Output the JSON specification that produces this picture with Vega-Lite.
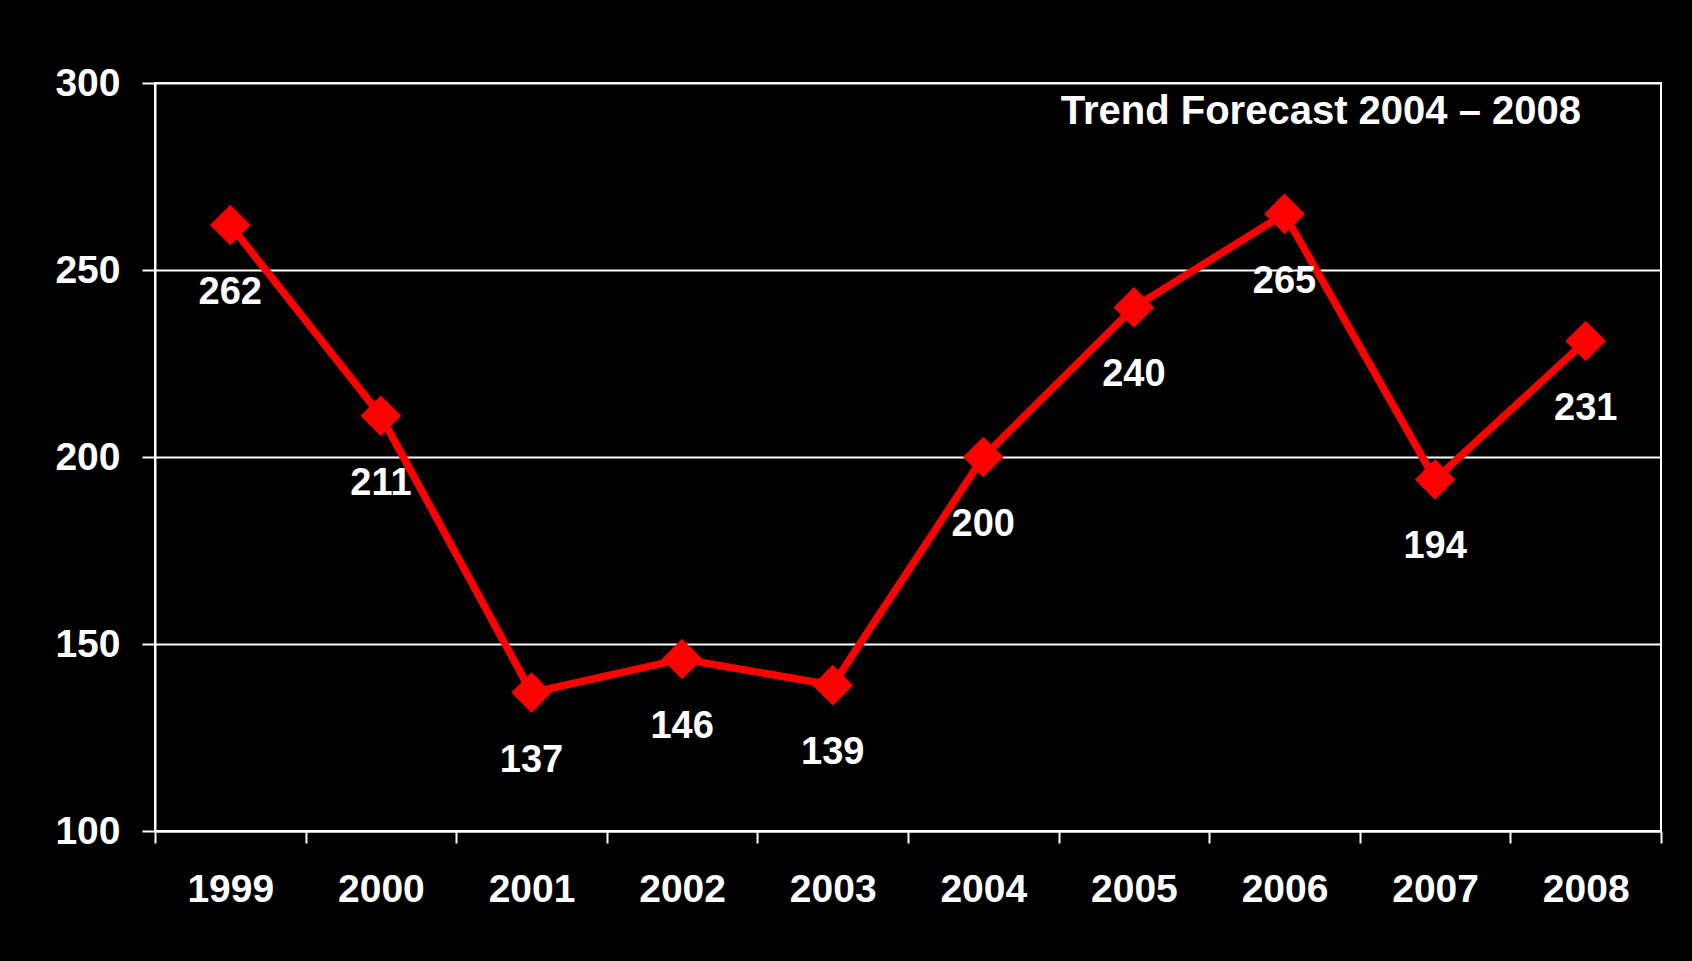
{
  "$schema": "https://vega.github.io/schema/vega-lite/v6.json",
  "width": 1506,
  "height": 748,
  "autosize": {"type": "none"},
  "padding": {"left": 155, "top": 83, "right": 31, "bottom": 130},
  "background": "#000000",
  "config": {
    "view": {"stroke": "#ffffff", "strokeWidth": 2},
    "font": "Liberation Sans",
    "axis": {
      "labelFont": "Liberation Sans",
      "labelFontWeight": "bold",
      "labelColor": "#ffffff",
      "labelFontSize": 39,
      "domainColor": "#ffffff",
      "domainWidth": 2,
      "tickColor": "#ffffff",
      "tickWidth": 2,
      "gridColor": "#ffffff",
      "gridWidth": 2,
      "gridOpacity": 1,
      "title": null
    }
  },
  "title": {
    "text": "Trend Forecast 2004 – 2008",
    "anchor": "end",
    "frame": "group",
    "dx": -80,
    "offset": -100,
    "baseline": "alphabetic",
    "font": "Liberation Sans",
    "fontSize": 40,
    "fontWeight": "bold",
    "color": "#ffffff"
  },
  "data": {
    "values": [
      {"year": "1999", "value": 262},
      {"year": "2000", "value": 211},
      {"year": "2001", "value": 137},
      {"year": "2002", "value": 146},
      {"year": "2003", "value": 139},
      {"year": "2004", "value": 200},
      {"year": "2005", "value": 240},
      {"year": "2006", "value": 265},
      {"year": "2007", "value": 194},
      {"year": "2008", "value": 231}
    ]
  },
  "encoding": {
    "x": {
      "field": "year",
      "type": "ordinal",
      "scale": {"type": "band", "paddingInner": 0, "paddingOuter": 0},
      "axis": {
        "labelAngle": 0,
        "tickBand": "extent",
        "tickSize": 12,
        "labelPadding": 27,
        "grid": false
      }
    },
    "y": {
      "field": "value",
      "type": "quantitative",
      "scale": {"domain": [100, 300], "nice": false, "zero": false},
      "axis": {
        "values": [100, 150, 200, 250, 300],
        "tickSize": 13,
        "labelPadding": 22,
        "grid": true
      }
    }
  },
  "layer": [
    {
      "mark": {"type": "line", "color": "#ff0000", "strokeWidth": 7.5}
    },
    {
      "mark": {"type": "point", "shape": "diamond", "filled": true, "color": "#ff0000", "size": 1650, "opacity": 1}
    },
    {
      "mark": {
        "type": "text",
        "font": "Liberation Sans",
        "fontWeight": "bold",
        "fontSize": 38,
        "color": "#ffffff",
        "baseline": "alphabetic",
        "align": "center",
        "dy": 79
      },
      "encoding": {"text": {"field": "value", "type": "quantitative"}}
    }
  ]
}
